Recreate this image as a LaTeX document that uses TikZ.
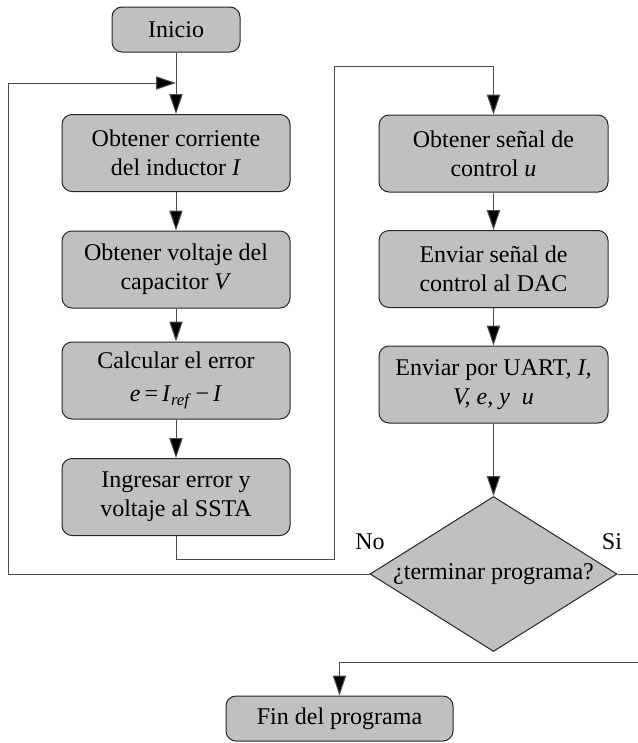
\documentclass[tikz,border=0pt]{standalone}
\usepackage{fontspec}
\setmainfont{Liberation Serif}
\usetikzlibrary{shapes.geometric,arrows.meta}
\definecolor{boxgray}{RGB}{192,192,192}
\begin{document}
\begin{tikzpicture}[x=0.75pt,y=-0.75pt,
 box/.style={draw=black!85, fill=boxgray, rounded corners=7.5pt, line width=0.75pt, align=center, font=\fontsize{18}{21.5}\selectfont, inner sep=0pt},
 lbox/.style={box, minimum width=171pt, minimum height=57.75pt},
 rbox/.style={box, minimum width=171.75pt, minimum height=57.75pt},
 tbox/.style={box, minimum height=33.75pt},
 line/.style={draw=black!70, line width=0.75pt},
 arr/.style={line, -{Triangle[length=15pt,width=10pt,fill=black]}},
 lab/.style={font=\fontsize{18}{21.5}\selectfont, inner sep=0pt}
]
\useasboundingbox[fill=white] (0,0) rectangle (638,743);
% nodes
\node[tbox, minimum width=96pt] (ini) at (176,29.5) {Inicio};
\node[lbox] (l1) at (176,153) {Obtener corriente\\del inductor \textit{I}};
\node[lbox] (l2) at (176,269.5) {Obtener voltaje del\\capacitor \textit{V}};
\node[lbox] (l3) at (176,380.5) {Calcular el error\\[3pt]\textit{e}\,=\,\textit{I}\textsubscript{\textit{ref}}\,\textminus\,\textit{I}};
\node[lbox] (l4) at (176,497) {Ingresar error y\\voltaje al SSTA};
\node[rbox] (r1) at (493.5,153.5) {Obtener señal de\\control \textit{u}};
\node[rbox] (r2) at (493.5,269) {Enviar señal de\\control al DAC};
\node[rbox] (r3) at (493.5,384.5) {Enviar por UART, \textit{I,}\\\textit{V, e, y\ \ u}};
\node[diamond, draw=black!85, fill=boxgray, line width=0.75pt, aspect=1.6, minimum width=185.25pt, minimum height=116.25pt, inner sep=0pt, font=\fontsize{18}{21.5}\selectfont] (dec) at (493.5,574) {¿terminar programa?};
\node[tbox, minimum width=170.25pt] (fin) at (339.5,718.5) {Fin del programa};
\node[lab] (no) at (370,542) {No};
\node[lab] (si) at (612,542) {Si};
% coordinates
\coordinate (c1) at (334,559);
\coordinate (c2) at (334,66);
\coordinate (lb) at (8,574);
\coordinate (lt) at (8,83);
\coordinate (re) at (638,574);
\coordinate (rb) at (638,662);
% connectors
\draw[arr] (ini.south) -- (l1.north);
\draw[arr] (l1.south) -- (l2.north);
\draw[arr] (l2.south) -- (l3.north);
\draw[arr] (l3.south) -- (l4.north);
\draw[arr] (l4.south) |- (c1) -- (c2) -| (r1.north);
\draw[arr] (r1.south) -- (r2.north);
\draw[arr] (r2.south) -- (r3.north);
\draw[arr] (r3.south) -- (dec.north);
\draw[arr] (dec.west) -- (lb) -- (lt) -- (lt -| ini.south);
\draw[line] (dec.east) -- (re);
\draw[arr] (rb) -| (fin.north);
\end{tikzpicture}
\end{document}
